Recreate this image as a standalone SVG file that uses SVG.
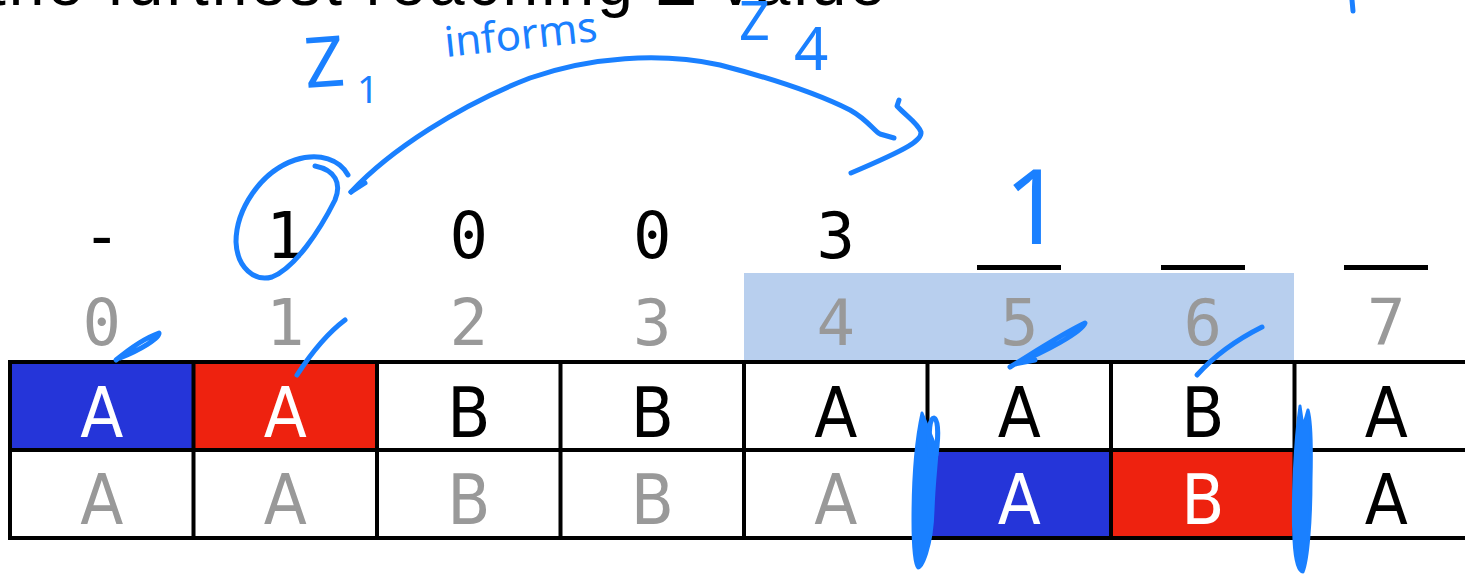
<svg xmlns="http://www.w3.org/2000/svg" width="1465" height="574" viewBox="0 0 1465 574">
  <style>
    .mono { font-family: "DejaVu Sans Mono", "Liberation Mono", monospace; font-size: 64px; text-anchor: middle; }
    .val { fill: #000000; }
    .idx { fill: #999999; }
    .cell { font-family: "Liberation Sans Narrow", "DejaVu Sans Condensed", "Liberation Sans", sans-serif; font-size: 70px; text-anchor: middle; }
    .k { fill: #000000; }
    .g { fill: #999999; }
    .w { fill: #ffffff; }
    .grid { stroke: #000000; stroke-width: 4; fill: none; }
    .ink { stroke: #1a80ff; stroke-width: 5; fill: none; stroke-linecap: round; stroke-linejoin: round; }
    .inkfill { fill: #1a80ff; stroke: #1a80ff; stroke-width: 3; stroke-linejoin: round; }
    .hand { font-family: "Noto Sans", "DejaVu Sans", sans-serif; font-weight: 400; fill: #1a80ff; }
    .blank { fill: #000000; }
  </style>

  <rect width="1465" height="574" fill="#ffffff"/>

  <!-- heading line, mostly above the top edge -->
  <text x="-12" y="5" font-family="Liberation Sans, sans-serif" font-size="64" textLength="897" lengthAdjust="spacing" fill="#000000">the furthest reaching Z value</text>

  <!-- window highlight behind indices 4..6 -->
  <rect x="744" y="273" width="550" height="89" fill="#b8cfee"/>

  <!-- Z values row -->
  <g id="zvalues">
    <text class="mono val" x="101.75" y="258">-</text>
    <text class="mono val" x="285.25" y="258">1</text>
    <text class="mono val" x="468.75" y="258">0</text>
    <text class="mono val" x="652.25" y="258">0</text>
    <text class="mono val" x="835.75" y="258">3</text>
    <rect class="blank" x="977" y="265" width="84" height="5"/>
    <rect class="blank" x="1161" y="265" width="84" height="5"/>
    <rect class="blank" x="1344" y="265" width="84" height="5"/>
  </g>

  <!-- index row -->
  <g id="indices">
    <text class="mono idx" x="101.75" y="345">0</text>
    <text class="mono idx" x="285.25" y="345">1</text>
    <text class="mono idx" x="468.75" y="345">2</text>
    <text class="mono idx" x="652.25" y="345">3</text>
    <text class="mono idx" x="835.75" y="345">4</text>
    <text class="mono idx" x="1019.25" y="345">5</text>
    <text class="mono idx" x="1202.75" y="345">6</text>
    <text class="mono idx" x="1386.25" y="345">7</text>
  </g>

  <!-- string row (top) -->
  <g id="row-string">
    <g id="s0"><rect x="10" y="362" width="183.5" height="88" fill="#2535d9"/><text class="cell w" x="101.75" y="437">A</text></g>
    <g id="s1"><rect x="193.5" y="362" width="183.5" height="88" fill="#ee220f"/><text class="cell w" x="285.25" y="437">A</text></g>
    <g id="s2"><text class="cell k" x="468.75" y="437">B</text></g>
    <g id="s3"><text class="cell k" x="652.25" y="437">B</text></g>
    <g id="s4"><text class="cell k" x="835.75" y="437">A</text></g>
    <g id="s5"><text class="cell k" x="1019.25" y="437">A</text></g>
    <g id="s6"><text class="cell k" x="1202.75" y="437">B</text></g>
    <g id="s7"><text class="cell k" x="1386.25" y="437">A</text></g>
  </g>

  <!-- string row (bottom, shifted comparison) -->
  <g id="row-compare">
    <g id="c0"><text class="cell g" x="101.75" y="524">A</text></g>
    <g id="c1"><text class="cell g" x="285.25" y="524">A</text></g>
    <g id="c2"><text class="cell g" x="468.75" y="524">B</text></g>
    <g id="c3"><text class="cell g" x="652.25" y="524">B</text></g>
    <g id="c4"><text class="cell g" x="835.75" y="524">A</text></g>
    <g id="c5"><rect x="927.5" y="450" width="183.5" height="88" fill="#2535d9"/><text class="cell w" x="1019.25" y="524">A</text></g>
    <g id="c6"><rect x="1111" y="450" width="183.5" height="88" fill="#ee220f"/><text class="cell w" x="1202.75" y="524">B</text></g>
    <g id="c7"><text class="cell k" x="1386.25" y="524">A</text></g>
  </g>

  <!-- grid lines -->
  <g id="grid">
    <path class="grid" stroke-width="5" d="M8 362 H1465 M8 450 H1465 M8 538 H1465"/>
    <path class="grid" stroke-width="5" d="M10 360 V540"/>
    <path class="grid" d="M193.5 362 V538 M377 362 V538 M560.5 362 V538 M744 362 V538 M927.5 362 V538 M1111 362 V538 M1294.5 362 V538"/>
  </g>

  <!-- handwritten notes -->
  <g id="notes">
    <text class="hand" x="306" y="88" font-size="70" transform="rotate(-4 306 88)">Z</text>
    <text class="hand" x="357" y="103" font-size="38">1</text>
    <text class="hand" x="446" y="57" font-size="42" transform="rotate(-6 446 57)">informs</text>
    <text class="hand" x="739" y="40" font-size="54">Z</text>
    <text class="hand" x="794" y="70" font-size="60">4</text>
    <text class="hand" x="1004" y="244" font-size="104" font-weight="300">1</text>
    <path class="ink" d="M1352 0 L1353 11"/>
    <!-- ring around the Z value at index 1 -->
    <path class="ink" d="M348 175 C340 160 320 152 295 160 C260 172 236 210 236 242 C237 268 255 282 272 277 C295 268 320 230 335 200 C342 183 335 170 315 166"/>
    <!-- ticks on the indices -->
    <path class="ink" stroke-width="6" d="M116 360 C128 350 145 338 159 333 C160 338 140 350 120 358"/>
    <path class="ink" stroke-width="6" d="M297 375 C310 355 325 335 345 320"/>
    <path class="ink" stroke-width="6" d="M1010 367 C1030 355 1060 335 1085 323 C1082 332 1045 352 1015 364 L1035 360"/>
    <path class="ink" stroke-width="8" d="M1197 375 C1215 355 1240 338 1262 327"/>
    <!-- window boundaries -->
    <path class="inkfill" d="M922 413 C916 440 913 480 913 520 C913 545 915 565 918 568 C922 568 932 548 933 510 C934 480 937 460 937 450 Z"/>
    <path class="ink" d="M930 455 C928 430 930 418 934 418 C939 420 938 440 936 455"/>
    <path class="inkfill" d="M1300 406 C1295 440 1292 500 1294 540 C1295 560 1298 572 1303 572 C1308 560 1311 520 1311 480 C1312 440 1311 420 1308 410 C1305 420 1303 430 1302 420 Z"/>
  </g>

  <!-- connector: Z1 informs Z4 -->
  <g id="connectors">
    <path class="ink" d="M351 192 C390 150 460 105 530 78 C590 57 660 52 720 65 C770 78 820 95 850 110 C868 120 875 132 880 134 L894 138"/>
    <path class="ink" d="M351 192 L365 183"/>
    <path class="ink" d="M899 100 L897 106 C905 115 918 123 921 132 C922 140 910 148 851 173"/>
  </g>
</svg>
